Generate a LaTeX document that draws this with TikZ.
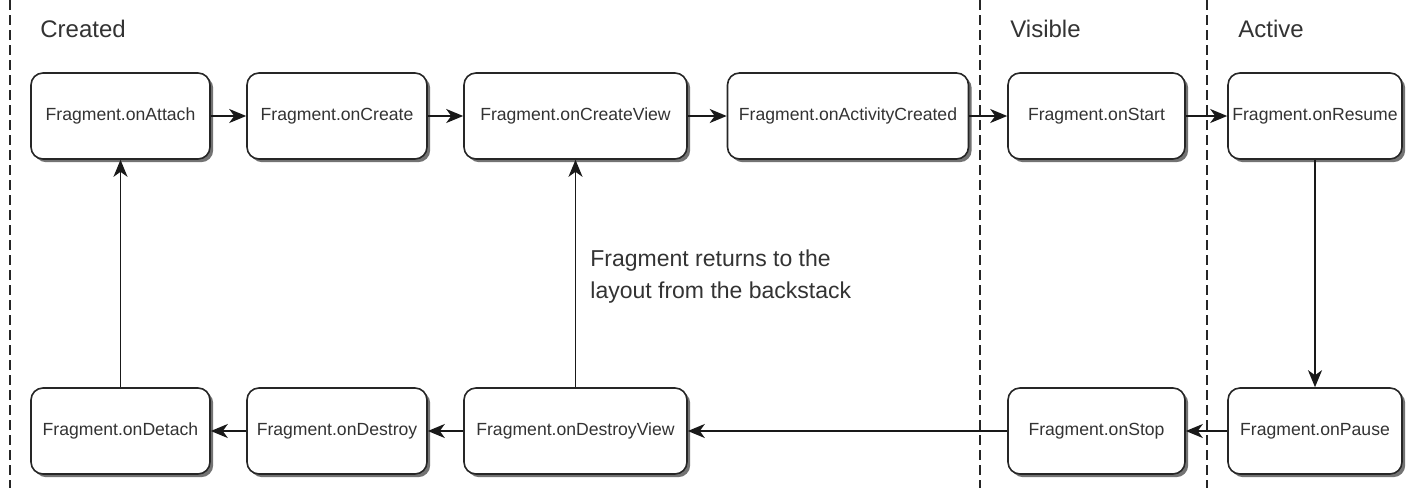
\documentclass[tikz,border=0pt]{standalone}
\usepackage{fontspec}
\setmainfont{Liberation Sans}
\usetikzlibrary{arrows.meta,shadows}
\definecolor{txt}{HTML}{333333}
\tikzset{
  stepbox/.style={draw=black!85, line width=0.8pt, rounded corners=6pt, fill=white,
    minimum height=43pt, inner sep=1pt, font=\fontsize{8.8}{11}\selectfont, text=txt,
    drop shadow={shadow xshift=1.6pt, shadow yshift=-1.6pt, fill=black, opacity=0.55}},
  flow/.style={draw=black!90, line width=0.9pt, -{Stealth[length=8.5pt,width=7pt,inset=2.5pt]}},
  divider/.style={draw=black!85, line width=0.6pt, dash pattern=on 5pt off 2.5pt},
  phase/.style={anchor=base west, font=\fontsize{12}{14}\selectfont, text=txt, inner sep=0pt},
}
\begin{document}
\begin{tikzpicture}[x=0.5pt,y=-0.5pt]
\useasboundingbox (0,0) rectangle (1414,488);
\fill[white] (0,0) rectangle (1414,488);
% dividers
\draw[divider] (10,0) -- (10,488);
\draw[divider] (980,0) -- (980,488);
\draw[divider] (1207,0) -- (1207,488);
% phase labels
\node[phase] (lcreated) at (40,37) {Created};
\node[phase] (lvisible) at (1010,37) {Visible};
\node[phase] (lactive) at (1238,37) {Active};
% top row
\node[stepbox, minimum width=89.5pt] (attach) at (120.5,116) {Fragment.onAttach};
\node[stepbox, minimum width=90pt] (create) at (337,116) {Fragment.onCreate};
\node[stepbox, minimum width=111.5pt] (createview) at (575.5,116) {Fragment.onCreateView};
\node[stepbox, minimum width=120.5pt] (actcreated) at (848,116) {Fragment.onActivityCreated};
\node[stepbox, minimum width=88.5pt] (start) at (1096.5,116) {Fragment.onStart};
\node[stepbox, minimum width=87pt] (resume) at (1315,116) {Fragment.onResume};
% bottom row
\node[stepbox, minimum width=89.5pt] (detach) at (120.5,431) {Fragment.onDetach};
\node[stepbox, minimum width=90pt] (destroy) at (337,431) {Fragment.onDestroy};
\node[stepbox, minimum width=111.5pt] (destroyview) at (575.5,431) {Fragment.onDestroyView};
\node[stepbox, minimum width=88.5pt] (stop) at (1096.5,431) {Fragment.onStop};
\node[stepbox, minimum width=87pt] (pause) at (1315,431) {Fragment.onPause};
% note
\node[anchor=north west, align=left, inner sep=0pt, text=txt,
      font=\fontsize{11.5}{16}\selectfont] (note) at (590,249)
  {Fragment returns to the\\layout from the backstack};
% arrows
\draw[flow] (attach) -- (create);
\draw[flow] (create) -- (createview);
\draw[flow] (createview) -- (actcreated);
\draw[flow] (actcreated) -- (start);
\draw[flow] (start) -- (resume);
\draw[flow] (resume) -- (pause);
\draw[flow] (pause) -- (stop);
\draw[flow] (stop) -- (destroyview);
\draw[flow] (destroyview) -- (destroy);
\draw[flow] (destroy) -- (detach);
\draw[flow] (detach) -- (attach);
\draw[flow] (destroyview) -- (createview);
\end{tikzpicture}
\end{document}
